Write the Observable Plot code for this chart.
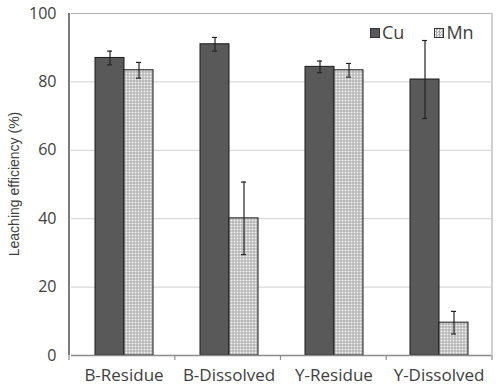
<!DOCTYPE html>
<html>
<head>
<meta charset="utf-8">
<script src="https://cdn.jsdelivr.net/npm/d3@7"></script>
<script src="https://cdn.jsdelivr.net/npm/@observablehq/plot@0.6"></script>
<style>
  body { margin: 0; background: #fff; }
  #wrap { position: relative; width: 496px; height: 386px; overflow: hidden; }
  #legend { position: absolute; top: 21px; left: 370px; font: 18px "Open Sans", sans-serif; color: #404040; display: flex; gap: 30px; line-height: 22px; }
  #legend span.sw { display: inline-block; width: 8px; height: 8px; border: 1px solid #333; margin-right: 2px; vertical-align: 1px; }
</style>
</head>
<body>
<div id="wrap">
  <div id="chart"></div>
  <div id="legend"></div>
</div>
<script>
// Leaching efficiency of Cu and Mn for each sample, mean ± error
const categories = ["B-Residue", "B-Dissolved", "Y-Residue", "Y-Dissolved"];
const series = ["Cu", "Mn"];
const cuValues = [87.0, 91.0, 84.4, 80.7];
const cuErrors = [2.0, 2.0, 1.7, 11.4];
const mnValues = [83.4, 40.1, 83.4, 9.6];
const mnErrors = [2.3, 10.6, 2.0, 3.3];
const yTicks = [0, 20, 40, 60, 80, 100];
const yLabel = "Leaching efficiency (%)";

const rows = [];
categories.forEach((c, i) => {
  rows.push({category: c, series: "Cu", value: cuValues[i], err: cuErrors[i]});
  rows.push({category: c, series: "Mn", value: mnValues[i], err: mnErrors[i]});
});

const width = 496, height = 386;
const marginLeft = 69, marginRight = 4, marginTop = 13, marginBottom = 31;
const font = '"Open Sans", sans-serif';

const chart = Plot.plot({
  width, height, marginLeft, marginRight, marginTop, marginBottom,
  style: {fontFamily: font, fontSize: "16px", color: "#404040", background: "#fff", overflow: "visible"},
  fx: {domain: categories, padding: 0, label: null, tickSize: 0, tickPadding: 13},
  x: {domain: series, paddingInner: 0, paddingOuter: 0.76, axis: null},
  y: {domain: [0, 100], ticks: yTicks, tickSize: 0, tickPadding: 15, label: null},
  color: {domain: series, range: ["#595959", "url(#mnDots)"]},
  marks: [
    Plot.ruleY([20, 40, 60, 80], {stroke: "#d9d9d9", strokeWidth: 1.2}),
    Plot.ruleY([100], {stroke: "#b0b0b0", strokeWidth: 1.2}),
    Plot.barY(rows, {fx: "category", x: "series", y: "value", fill: "series", stroke: "#1a1a1a", strokeWidth: 1}),
    Plot.ruleX(rows, {fx: "category", x: "series", y1: d => d.value - d.err, y2: d => d.value + d.err, stroke: "#222", strokeWidth: 1.2}),
    Plot.tickY(rows, {fx: "category", x: "series", y: d => d.value + d.err, stroke: "#222", strokeWidth: 1.2, insetLeft: 12, insetRight: 12}),
    Plot.tickY(rows, {fx: "category", x: "series", y: d => d.value - d.err, stroke: "#222", strokeWidth: 1.2, insetLeft: 12, insetRight: 12}),
    Plot.ruleY([0], {stroke: "#8c8c8c", strokeWidth: 1.3})
  ]
});

const svg = d3.select(chart);

// dotted fill for the Mn bars
const defs = svg.insert("defs", ":first-child");
const pat = defs.append("pattern").attr("id", "mnDots").attr("patternUnits", "userSpaceOnUse")
  .attr("width", 3).attr("height", 3);
pat.append("rect").attr("width", 3).attr("height", 3).attr("fill", "#a8a8a8");
pat.append("rect").attr("x", 0.5).attr("y", 0.5).attr("width", 2).attr("height", 2).attr("fill", "#f2f2f2");

// tick label sizes
svg.selectAll("g[aria-label='y-axis tick label'] text, g[aria-label='y-axis tick label']")
  .attr("font-size", 16).style("font-size", "16px");
svg.selectAll("g[aria-label='fx-axis tick label'] text, g[aria-label='fx-axis tick label']")
  .attr("font-size", 17).style("font-size", "17px");

// left axis line, right border and category separator ticks
const fx = d3.scaleBand(categories, [marginLeft, width - marginRight]);
const yPix = d3.scaleLinear([0, 100], [height - marginBottom, marginTop]);
const deco = svg.append("g");
deco.append("line").attr("x1", marginLeft).attr("x2", marginLeft)
  .attr("y1", yPix(100)).attr("y2", yPix(0)).attr("stroke", "#333").attr("stroke-width", 1.3);
deco.append("line").attr("x1", width - marginRight).attr("x2", width - marginRight)
  .attr("y1", yPix(100)).attr("y2", yPix(0)).attr("stroke", "#b0b0b0").attr("stroke-width", 1.2);
[...categories.map(c => fx(c)), width - marginRight].forEach(x => {
  deco.append("line").attr("x1", x).attr("x2", x).attr("y1", yPix(0)).attr("y2", yPix(0) + 5)
    .attr("stroke", "#8c8c8c").attr("stroke-width", 1.2);
});

// y-axis title
deco.append("text")
  .attr("transform", `translate(14,${(yPix(0) + yPix(100)) / 2}) rotate(-90)`)
  .attr("text-anchor", "middle").attr("dy", "0.35em")
  .attr("fill", "#404040")
  .style("font-family", '"Liberation Sans", Arial, sans-serif').style("font-size", "14px")
  .text(yLabel);

document.getElementById("chart").appendChild(chart);

// legend
const legend = document.getElementById("legend");
series.forEach(s => {
  const item = document.createElement("div");
  const sw = document.createElement("span");
  sw.className = "sw";
  if (s === "Cu") sw.style.background = "#595959";
  else sw.style.background = "repeating-conic-gradient(#a8a8a8 0 25%, #f2f2f2 0 50%) 0 0 / 3px 3px";
  item.appendChild(sw);
  item.appendChild(document.createTextNode(s));
  legend.appendChild(item);
});
</script>
</body>
</html>
